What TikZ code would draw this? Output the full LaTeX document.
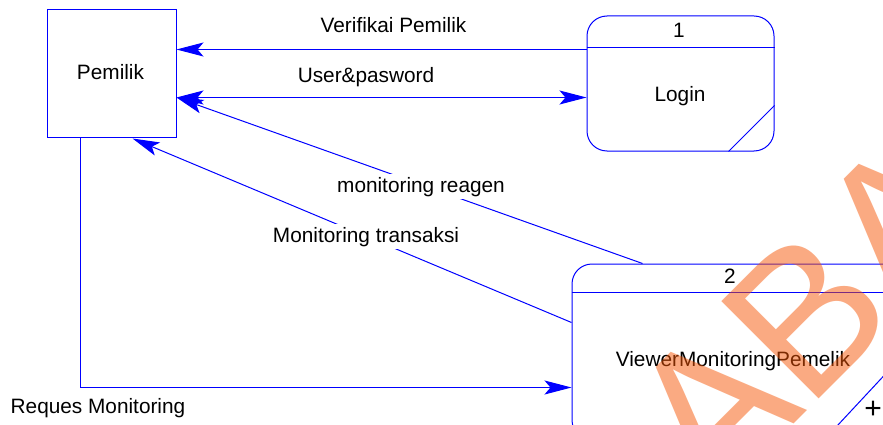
\documentclass[tikz,border=0pt]{standalone}
\usepackage{fontspec}
\setmainfont{Liberation Sans}
\usetikzlibrary{arrows.meta,calc}
\definecolor{dfdblue}{RGB}{0,0,255}
\definecolor{wmorange}{RGB}{245,85,5}
\begin{document}
\begin{tikzpicture}[x=1pt,y=-1pt,
  txt/.style={font=\fontsize{20.8}{25}\selectfont, inner sep=0pt},
  lbl/.style={txt, anchor=base},
  cutlbl/.style={txt, anchor=base, fill=white, inner sep=3pt},
  entity/.style={draw=dfdblue, line width=1pt, rectangle, inner sep=0pt},
  process/.style={draw=dfdblue, line width=1pt, rectangle, rounded corners=20pt, inner sep=0pt},
  flow/.style={draw=dfdblue, line width=1pt, -{Stealth[length=27pt,width=14pt,inset=6pt]}},
  bothflow/.style={draw=dfdblue, line width=1pt, {Stealth[length=27pt,width=14pt,inset=6pt]}-{Stealth[length=27pt,width=14pt,inset=6pt]}},
  thin/.style={draw=dfdblue, line width=1pt}]
\useasboundingbox (0,0) rectangle (883,425);
\clip (0,0) rectangle (883,425);

% external entity
\node[entity, minimum width=128.5pt, minimum height=128pt] (pem) at (111.75,74) {};
\node[lbl] (pemtxt) at (110.5,80) {Pemilik};

% process 1
\node[process, minimum width=187pt, minimum height=135pt] (login) at (680.5,83.5) {};
\draw[thin] ($(login.north west)+(0,32)$) -- ($(login.north east)+(0,32)$);
\draw[thin] ($(login.south east)+(-46,0)$) -- ($(login.south east)+(0,-46)$);
\node[lbl] (loginno) at (679,38) {1};
\node[lbl] (logintxt) at (680,102) {Login};

% process 2
\node[process, minimum width=333pt, minimum height=176pt] (viewer) at (738.5,352) {};
\draw[thin] ($(viewer.north west)+(0,29)$) -- ($(viewer.north east)+(0,29)$);
\draw[thin] ($(viewer.south east)+(-82,0)$) -- ($(viewer.south east)+(0,-88)$);
\node[lbl] (viewerno) at (730,283) {2};
\node[lbl] (viewertxt) at (733,366) {ViewerMonitoringPemelik};
\node[txt, font=\fontsize{30}{30}\selectfont] (decomp) at (873,410) {+};

% data flows
\draw[flow] ($(login.north west)+(0,34)$) -- ($(pem.north east)+(0,40)$);
\node[lbl] (l1) at (393.5,33) {Verifikai Pemilik};

\draw[bothflow] ($(pem.north east)+(0,88)$) -- ($(login.north west)+(0,82)$);
\node[lbl] (l2) at (366,83) {User\&pasword};

\draw[flow] ($(viewer.north west)+(71,0)$) -- ($(pem.north east)+(0,88)$);
\node[cutlbl] (l3) at (421,192) {monitoring reagen};

\draw[flow] ($(viewer.north west)+(0,59)$) -- ($(pem.south west)+(85.5,0)$);
\node[cutlbl] (l4) at (366,242) {Monitoring transaksi};

\draw[flow] ($(pem.south west)+(33.5,0)$) |- ($(viewer.north west)+(0,124)$);
\node[lbl] (l5) at (98,413) {Reques Monitoring};

% watermark
\node[anchor=base west, rotate=45, inner sep=0pt, text=wmorange, text opacity=0.5,
      font=\fontsize{200}{200}\selectfont] (wm) at (713,505) {ABA};
\end{tikzpicture}
\end{document}
